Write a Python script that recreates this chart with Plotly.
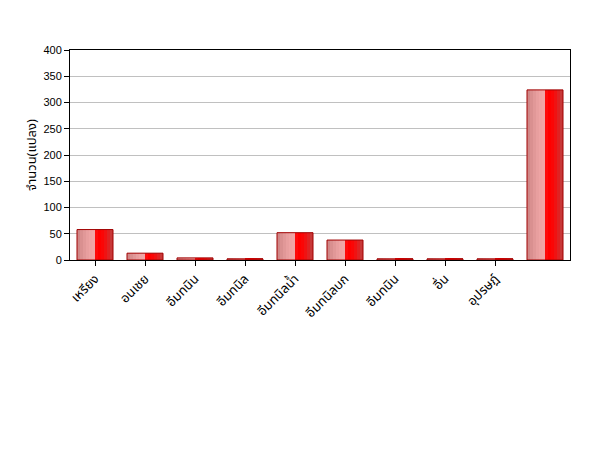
import plotly.graph_objects as go

categories = ["เหรียง", "อนเชย", "อีมทนิน", "อีมทนิล", "อีมทนิลน้ำ",
              "อีมทนิลบก", "อีมทนิน", "อื่น", "อุปรษฎ์", ""]
values = [58, 13, 4, 2, 52, 38, 2, 2, 2, 324]
y_title = "จำนวน(แปลง)"
y_ticks = [0, 50, 100, 150, 200, 250, 300, 350, 400]

x = list(range(len(categories)))
bar_w = 0.72
slice_colors = ["#d08888", "#d99090", "#e19898", "#e89f9f", "#eda4a4", "#f0a6a6",
                "#ff0a0a", "#ff0000", "#fb0606", "#f01212", "#e02222", "#c83838"]
n = len(slice_colors)
sw = bar_w / n

fig = go.Figure()
for i, c in enumerate(slice_colors):
    fig.add_trace(go.Bar(
        x=x, y=values, width=sw, offset=-bar_w / 2 + i * sw,
        marker=dict(color=c, line=dict(width=0)),
        showlegend=False, hoverinfo="skip"))
fig.add_trace(go.Bar(
    x=x, y=values, width=bar_w, offset=-bar_w / 2,
    marker=dict(color="rgba(0,0,0,0)", line=dict(color="#a00000", width=1)),
    showlegend=False))

font = "Liberation Sans, Arial, sans-serif"
thai = "Noto Sans Thai, Tahoma, " + font
fig.update_layout(
    width=600, height=450,
    barmode="overlay",
    paper_bgcolor="white", plot_bgcolor="white",
    margin=dict(l=62, r=38, t=42, b=198),
    font=dict(family=font, size=11, color="black"),
    xaxis=dict(
        range=[-0.5, len(categories) - 0.5],
        tickmode="array", tickvals=x[:9], ticktext=categories[:9],
        tickangle=-45, ticks="outside", ticklen=5, tickcolor="black",
        showline=True, linecolor="black", linewidth=1, mirror=True,
        showgrid=False, zeroline=False,
        tickfont=dict(size=13, family=thai)),
    yaxis=dict(
        range=[0, 400], tickmode="array", tickvals=y_ticks,
        ticks="outside", ticklen=5, tickcolor="black",
        showline=True, linecolor="black", linewidth=1, mirror=True,
        showgrid=True, gridcolor="#c0c0c0", gridwidth=1, zeroline=False,
        title=dict(text=y_title, standoff=3,
                   font=dict(size=13, family=thai))),
)
fig.write_html("out.html")
